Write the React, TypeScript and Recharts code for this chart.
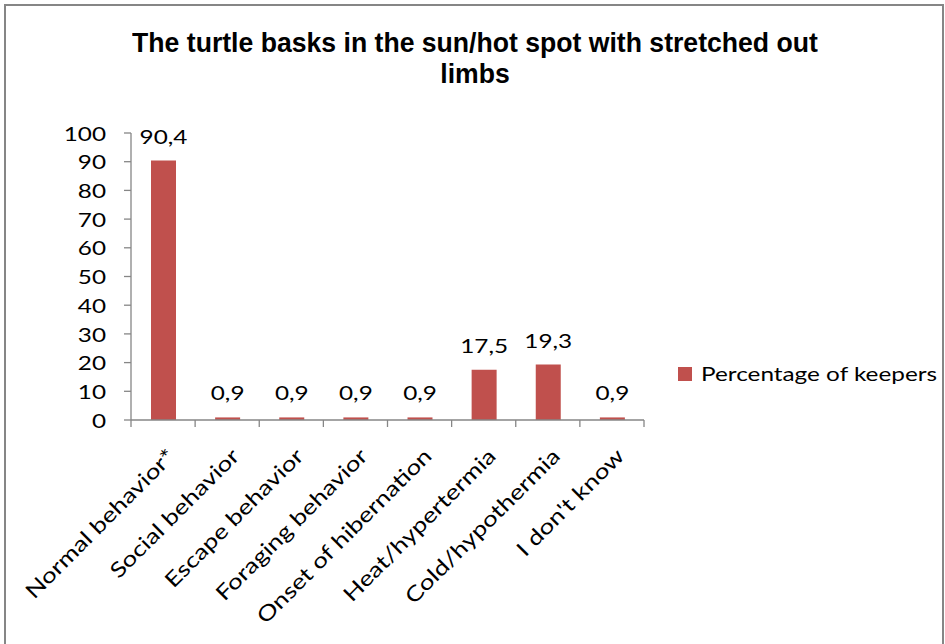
import React from 'react';
import { BarChart, Bar, XAxis, YAxis, LabelList, Legend } from 'recharts';

// Answers given by keepers, as percentages
const categories = [
  'Normal behavior*',
  'Social behavior',
  'Escape behavior',
  'Foraging behavior',
  'Onset of hibernation',
  'Heat/hypertermia',
  'Cold/hypothermia',
  "I don't know",
];
const keeperShares = [90.4, 0.9, 0.9, 0.9, 0.9, 17.5, 19.3, 0.9];
const yTicks = [0, 10, 20, 30, 40, 50, 60, 70, 80, 90, 100];

const seriesName = 'Percentage of keepers';
const titleLines = ['The turtle basks in the sun/hot spot with stretched out', 'limbs'];

const data = categories.map((category, i) => ({ category, share: keeperShares[i] }));

const FONT = "Lato, Carlito, Calibri, sans-serif";
const AXIS_GREY = '#868686';
const BAR_RED = '#C0504D';
const TEXT_SIZE = 19;
const TEXT_STRETCH = 1.28;
const X_TICK_SIZE = 7;
const X_TICK_MARGIN = 20;

const fmt = (v: any) => String(v).replace('.', ',');

// Category label, rotated, plus the small tick marks that sit on the band edges
const CategoryTick = (props: any) => {
  const { x, y, payload, index, width } = props;
  const n = categories.length;
  const half = payload && payload.offset ? payload.offset : width / (2 * n);
  const axisY = y - X_TICK_SIZE - X_TICK_MARGIN;
  const edges = [x - half];
  if (index === n - 1) edges.push(x + half);
  return (
    <g>
      {edges.map((ex) => (
        <line key={ex} x1={ex} x2={ex} y1={axisY} y2={axisY + X_TICK_SIZE} stroke={AXIS_GREY} strokeWidth={1.3} />
      ))}
      <text
        transform={`translate(${x + 3} ${y}) rotate(-45) scale(1.24 1)`}
        textAnchor="end"
        dy="0.71em"
        fontFamily={FONT}
        fontSize={21}
        fill="#000"
      >
        {payload.value}
      </text>
    </g>
  );
};

const ValueTick = (props: any) => {
  const { x, y, payload } = props;
  return (
    <text
      transform={`translate(${x} ${y}) scale(${TEXT_STRETCH} 1)`}
      textAnchor="end"
      dy="0.4em"
      fontFamily={FONT}
      fontSize={TEXT_SIZE}
      fill="#000"
    >
      {payload.value}
    </text>
  );
};

const BarValue = (props: any) => {
  const { x, y, width, value } = props;
  return (
    <text
      transform={`translate(${x + width / 2} ${y - 17}) scale(${TEXT_STRETCH} 1)`}
      textAnchor="middle"
      fontFamily={FONT}
      fontSize={TEXT_SIZE}
      fill="#000"
    >
      {fmt(value)}
    </text>
  );
};

const LegendContent = () => (
  <div style={{ display: 'flex', alignItems: 'center', whiteSpace: 'nowrap' }}>
    <span style={{ display: 'inline-block', width: 14, height: 14, background: BAR_RED, marginRight: 9 }} />
    <span
      style={{
        display: 'inline-block',
        fontFamily: FONT,
        fontSize: TEXT_SIZE,
        color: '#000',
        transform: `scaleX(${TEXT_STRETCH})`,
        transformOrigin: 'left center',
      }}
    >
      {seriesName}
    </span>
  </div>
);

export default function App() {
  return (
    <div style={{ position: 'absolute', left: 0, top: 0, width: 945, height: 644, overflow: 'hidden', background: '#fff' }}>
      <div
        style={{
          position: 'absolute',
          left: 4,
          top: 4,
          width: 936,
          height: 700,
          border: `2px solid ${AXIS_GREY}`,
        }}
      />
      <div
        style={{
          position: 'absolute',
          left: 0,
          top: 27,
          width: 950,
          textAlign: 'center',
          fontFamily: "'Liberation Sans', Arial, sans-serif",
          fontWeight: 'bold',
          fontSize: 28,
          lineHeight: '31px',
          color: '#000',
          transform: 'scaleX(0.95)',
          transformOrigin: '475px 0',
        }}
      >
        {titleLines.map((l) => (
          <div key={l}>{l}</div>
        ))}
      </div>
      <div style={{ position: 'absolute', left: 0, top: 0 }}>
        <BarChart
          width={945}
          height={644}
          data={data}
          margin={{ top: 133, right: 301, bottom: 194, left: 71 }}
        >
          <XAxis
            dataKey="category"
            height={30}
            interval={0}
            tick={<CategoryTick />}
            tickLine={false}
            tickSize={X_TICK_SIZE}
            tickMargin={X_TICK_MARGIN}
            axisLine={{ stroke: AXIS_GREY, strokeWidth: 1.3 }}
          />
          <YAxis
            width={60}
            domain={[0, 100]}
            ticks={yTicks}
            interval={0}
            tickSize={7}
            tickMargin={18}
            axisLine={{ stroke: AXIS_GREY, strokeWidth: 1.3 }}
            tickLine={{ stroke: AXIS_GREY, strokeWidth: 1.3 }}
            tick={<ValueTick />}
          />
          <Legend
            layout="vertical"
            verticalAlign="middle"
            align="center"
            content={<LegendContent />}
            wrapperStyle={{ left: 678, top: 362, width: 270, height: 24 }}
          />
          <Bar dataKey="share" name={seriesName} fill={BAR_RED} barSize={25} isAnimationActive={false}>
            <LabelList dataKey="share" content={<BarValue />} />
          </Bar>
        </BarChart>
      </div>
    </div>
  );
}
